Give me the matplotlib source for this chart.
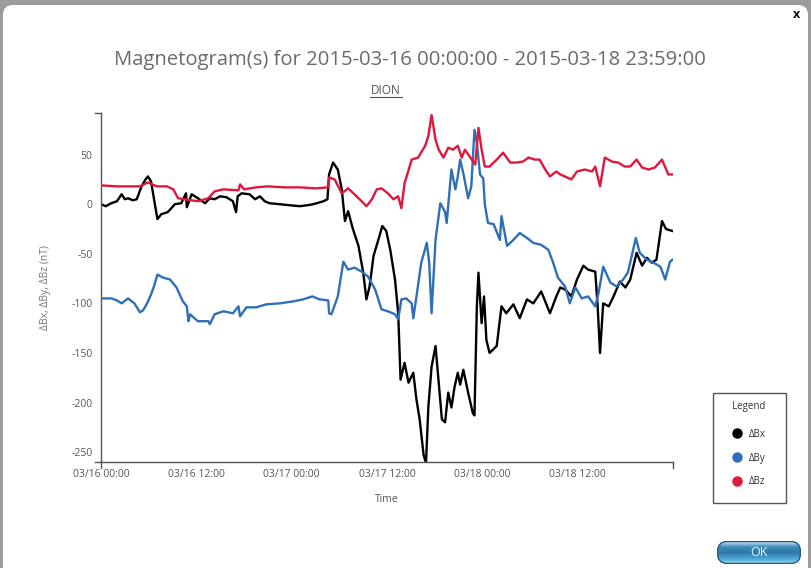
import matplotlib
matplotlib.use("Agg")
import matplotlib.pyplot as plt
import numpy as np
import pandas as pd
from matplotlib.patches import FancyBboxPatch, Rectangle
from matplotlib.lines import Line2D

plt.rcParams['font.family'] = ['Open Sans', 'DejaVu Sans']
plt.rcParams['axes.unicode_minus'] = False

# DION magnetometer, hours after 2015-03-16 00:00 and field deviations (nT)
start = pd.Timestamp('2015-03-16 00:00')

bx_hours = [0, 0.6, 1.3, 2.0, 2.6, 3.0, 3.4, 4.0, 4.5, 5.1, 5.6, 5.9, 6.3, 6.8, 7.1, 7.6,
            8.4, 9.3, 10.1, 10.7, 10.8, 11.4, 12.2, 13.1, 13.7, 14.3, 15.0, 15.8, 16.6,
            17.0, 17.2, 17.7, 18.7, 19.4, 20.0, 20.6, 21.2, 22.5, 23.7, 25.0, 26.0, 26.7,
            28.0, 28.5, 28.7, 29.2, 29.8, 30.3, 30.7, 31.1, 31.7, 32.4, 33.0, 33.4, 33.8,
            34.3, 34.9, 35.4, 35.9, 36.4, 37.0, 37.4, 37.7, 38.2, 38.7, 39.3, 39.7, 40.1,
            40.6, 40.9, 41.2, 41.6, 42.1, 42.5, 42.9, 43.3, 43.7, 44.1, 44.5, 44.9, 45.2,
            45.6, 46.2, 46.8, 47.0, 47.3, 47.5, 47.9, 48.2, 48.5, 48.9, 49.8, 50.4, 51.0,
            51.9, 52.7, 53.6, 54.4, 55.4, 56.5, 57.3, 57.8, 58.4, 59.2, 59.9, 60.7, 61.3,
            62.2, 62.5, 62.8, 63.2, 63.9, 64.5, 65.3, 66.0, 66.6, 67.4, 68.1, 68.7, 69.3,
            69.9, 70.6, 71.1, 71.9]
bx_values = [0, -2, 1, 3, 10, 5, 6, 4, 5, 18, 25, 28, 23, -1, -15, -10,
             -8, 0, 1, 11, -3, 10, 6, 1, 6, 5, 8, 7, 3,
             -8, 8, 11, 10, 5, 8, 3, 1, 0, -1, -2, -1, 0,
             3, 5, 30, 42, 35, 15, -17, -7, -25, -42, -69, -96, -83,
             -52, -36, -22, -27, -46, -76, -110, -177, -160, -180, -170, -197, -217,
             -253, -261, -204, -164, -143, -180, -217, -220, -190, -205, -184, -170, -182,
             -167, -190, -211, -213, -103, -69, -120, -93, -137, -150, -143, -103, -110,
             -101, -115, -96, -100, -88, -110, -93, -84, -86, -93, -76, -62, -66,
             -68, -103, -150, -100, -103, -93, -78, -84, -76, -49, -62, -54, -59,
             -56, -17, -25, -27]

by_hours = [0, 1.3, 2.0, 2.6, 3.4, 4.2, 4.9, 5.3, 5.8, 6.3, 6.7, 7.1, 7.8, 8.7, 9.5, 10.3,
            10.8, 11.0, 11.2, 12.2, 13.5, 13.7, 14.3, 15.4, 16.6, 17.3, 17.5, 18.3, 19.5,
            20.8, 22.5, 24.2, 25.4, 26.6, 27.5, 28.6, 28.7, 29.0, 29.8, 30.5, 31.1, 31.9,
            32.8, 33.6, 34.5, 35.3, 36.1, 37.0, 37.4, 37.8, 38.4, 39.1, 39.3, 39.7, 40.3,
            41.0, 41.3, 41.6, 42.1, 42.7, 43.3, 43.5, 44.1, 44.6, 44.9, 45.2, 45.6, 46.2,
            46.6, 47.0, 47.3, 47.7, 48.1, 48.3, 48.7, 49.4, 50.2, 50.4, 51.1, 51.9, 52.7,
            53.6, 54.4, 55.4, 56.3, 56.9, 57.5, 58.4, 59.0, 59.7, 60.5, 61.3, 62.2, 62.6,
            63.2, 64.1, 64.9, 65.7, 66.3, 66.8, 67.3, 67.8, 68.7, 69.5, 70.4, 71.0, 71.6,
            71.9]
by_values = [-95, -95, -97, -100, -95, -100, -109, -107, -100, -91, -82, -71, -74, -76, -84, -98,
             -103, -118, -111, -118, -118, -121, -111, -108, -110, -103, -113, -104, -104,
             -101, -100, -98, -96, -93, -96, -97, -110, -111, -93, -58, -66, -64,
             -68, -73, -86, -106, -108, -111, -116, -96, -95, -100, -115, -93, -59,
             -39, -59, -110, -36, 1, -8, -19, 35, 15, 28, 45, 31, 6,
             18, 75, 62, 30, 26, 0, -19, -20, -36, -12, -42, -36, -29,
             -34, -39, -41, -46, -59, -74, -83, -100, -84, -95, -93, -103, -90,
             -63, -79, -83, -76, -69, -52, -34, -49, -56, -59, -63, -76, -58,
             -56]

bz_hours = [0, 2.0, 4.9, 5.9, 7.0, 8.3, 9.1, 9.7, 10.5, 12.2, 13.5, 14.3, 15.4, 17.3, 17.5,
            18.0, 19.5, 21.0, 23.0, 25.0, 27.0, 28.6, 28.7, 29.4, 30.3, 31.1, 31.9, 32.8,
            33.4, 34.1, 34.7, 35.3, 36.1, 36.8, 37.4, 37.8, 38.2, 39.1, 39.9, 40.8, 41.2,
            41.6, 42.1, 42.5, 43.1, 43.7, 44.3, 44.9, 45.4, 45.8, 46.4, 47.1, 47.5, 47.9,
            48.3, 48.9, 49.8, 50.6, 51.5, 52.3, 53.1, 53.8, 54.6, 55.2, 55.9, 56.5, 57.3,
            57.8, 59.2, 59.9, 60.9, 61.8, 62.2, 62.8, 63.4, 64.3, 65.1, 65.9, 66.6, 67.4,
            68.1, 68.9, 69.7, 70.6, 71.4, 71.9]
bz_values = [19, 18, 18, 22, 18, 18, 15, 6, 5, 3, 6, 13, 15, 14, 20,
             15, 17, 18, 17, 17, 16, 17, 27, 25, 11, 16, 10, 3,
             -2, 5, 15, 16, 11, 5, 8, -4, 21, 45, 47, 59, 69,
             90, 65, 55, 47, 57, 55, 59, 47, 55, 48, 40, 77, 55,
             38, 38, 45, 52, 42, 42, 43, 47, 45, 45, 35, 28, 33,
             30, 25, 33, 35, 33, 38, 18, 47, 43, 42, 38, 38, 45,
             37, 35, 37, 45, 30, 30]

series_labels = ['ΔBx', 'ΔBy', 'ΔBz']
series_colors = ['#000000', '#2f6fb8', '#e0173c']
y_ticks = [50, 0, -50, -100, -150, -200, -250]
x_tick_labels = ['03/16 00:00', '03/16 12:00', '03/17 00:00', '03/17 12:00',
                 '03/18 00:00', '03/18 12:00']

W, H = 811, 568
fig = plt.figure(figsize=(W / 100, H / 100), dpi=100)
fig.patch.set_facecolor('#9c9c9c')
inch = fig.dpi_scale_trans


def fx(x):
    return x / W


def fy(y):
    return 1 - y / H


# white dialog panel, kept underneath everything else
panel = FancyBboxPatch((0.03, -0.2), 8.05, 5.83, boxstyle='round,pad=0,rounding_size=0.1',
                       transform=inch, facecolor='white', edgecolor='none', zorder=-10)
fig.add_artist(panel)
fig.text(fx(797), fy(15), 'x', ha='center', va='center', fontsize=9,
         fontweight='bold', color='#111111')

fig.text(fx(410), fy(60), 'Magnetogram(s) for 2015-03-16 00:00:00 - 2015-03-18 23:59:00',
         ha='center', va='center', fontsize=14.6, color='#6b6b6b')
fig.text(fx(386), fy(90), 'DION', ha='center', va='center', fontsize=8.5, color='#555555')
fig.add_artist(Line2D([fx(370), fx(402)], [fy(97), fy(97)], color='#555555', lw=0.8))

ax = fig.add_axes([fx(101), fy(462), fx(673) - fx(101), fy(113) - fy(462)])
ax.set_facecolor('none')

for hours, values, label, color in zip([bx_hours, by_hours, bz_hours],
                                       [bx_values, by_values, bz_values],
                                       series_labels, series_colors):
    t = start + pd.to_timedelta(hours, unit='h')
    ax.plot(t, values, color=color, lw=1.7, label=label)

ax.set_xlim(start, start + pd.Timedelta(hours=71, minutes=59))
ax.set_ylim(-260, 92)
ax.set_yticks(y_ticks)
ax.set_xticks([start + pd.Timedelta(hours=12 * i) for i in range(len(x_tick_labels))])
ax.set_xticklabels(x_tick_labels)
ax.tick_params(length=0, labelsize=7.5, labelcolor='#555555')
ax.tick_params(axis='y', pad=6)
ax.tick_params(axis='x', pad=5)
for side in ['top', 'right']:
    ax.spines[side].set_visible(False)
for side in ['left', 'bottom']:
    ax.spines[side].set_color('#555555')
    ax.spines[side].set_linewidth(1)

# outer tick caps at the axis ends
cap = dict(color='#555555', lw=1, transform=fig.transFigure)
fig.add_artist(Line2D([fx(95), fx(101)], [fy(113), fy(113)], **cap))
fig.add_artist(Line2D([fx(95), fx(101)], [fy(462), fy(462)], **cap))
fig.add_artist(Line2D([fx(101), fx(101)], [fy(462), fy(468)], **cap))
fig.add_artist(Line2D([fx(673), fx(673)], [fy(462), fy(468)], **cap))

ax.set_xlabel('Time', fontsize=7.5, color='#555555', labelpad=10)
ax.set_ylabel('ΔBx, ΔBy, ΔBz (nT)', fontsize=7.5, color='#777777', labelpad=15)

# legend box
fig.add_artist(Rectangle((fx(713), fy(503)), fx(786) - fx(713), fy(393) - fy(503),
                         transform=fig.transFigure, facecolor='white',
                         edgecolor='#555555', lw=1))
fig.text(fx(749), fy(407), 'Legend', ha='center', va='center', fontsize=7, color='#333333')
handles = [Line2D([], [], marker='o', ls='none', color=c, markersize=6.5) for c in series_colors]
fig.legend(handles, series_labels, loc='upper left', bbox_to_anchor=(fx(727), fy(424)),
           frameon=False, fontsize=7, labelspacing=1.3, handletextpad=0.7,
           handlelength=1.0, borderpad=0, labelcolor='#333333')

# OK button
bax = fig.add_axes([fx(717), fy(564), fx(801) - fx(717), fy(541) - fy(564)])
bax.set_xlim(0, 84)
bax.set_ylim(0, 23)
bax.axis('off')
grad = np.linspace(0, 1, 64)[:, None]
img = bax.imshow(grad, extent=(0, 84, 0, 23), origin='lower', aspect='auto',
                 cmap=matplotlib.colors.LinearSegmentedColormap.from_list(
                     'btn', ['#8fd8ef', '#4aa3cf', '#2c79a8', '#3f8cba', '#d9eef7']))
shape = FancyBboxPatch((0.5, 0.5), 83, 22, boxstyle='round,pad=0,rounding_size=10',
                       transform=bax.transData, facecolor='none', edgecolor='#24587d', lw=1)
bax.add_patch(shape)
img.set_clip_path(shape)
bax.text(42, 11, 'OK', ha='center', va='center', fontsize=9, color='#eef6fb')

fig.savefig('out.png', dpi=100, facecolor=fig.get_facecolor())
